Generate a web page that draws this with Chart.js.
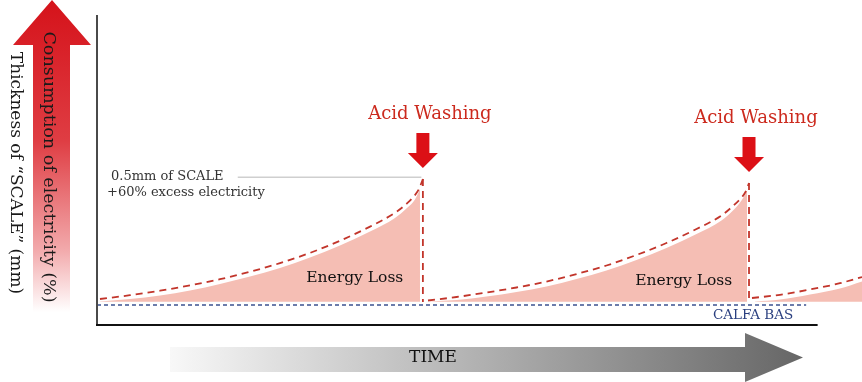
<!DOCTYPE html>
<html>
<head>
<meta charset="utf-8">
<script src="https://cdn.jsdelivr.net/npm/chart.js@4.4.1/dist/chart.umd.min.js"></script>
<style>
  html, body { margin: 0; padding: 0; background: #fff; }
  canvas { display: block; }
</style>
</head>
<body>
<canvas id="scaleChart" width="862" height="382"></canvas>
<script>
/* ── Data (time 0..100, consumption level 0..100) ─────── */
const curve1X = [0.39, 4.31, 8.24, 12.16, 16.08, 20.0, 23.92, 27.84, 31.76, 35.69, 38.95, 40.52, 41.57, 42.09, 42.6];
const curve1Y = [8.39, 9.61, 11.06, 12.77, 14.77, 17.16, 19.97, 23.26, 27.16, 31.74, 36.19, 39.23, 41.94, 43.87, 47.1];
const curve2X = [43.27, 46.99, 50.92, 54.84, 58.76, 62.68, 66.60, 70.52, 74.44, 78.37, 81.63, 83.20, 84.25, 84.77, 85.23];
const curve2Y = [7.90, 9.03, 10.48, 12.10, 14.03, 16.45, 19.19, 22.58, 26.45, 30.97, 35.32, 38.55, 41.13, 42.90, 45.81];
const curve3X = [85.62, 89.28, 93.20, 97.12, 100];
const curve3Y = [8.71, 9.74, 11.45, 13.48, 15.48];

// energy loss areas (sit just under the dashed curves)
const loss1X = [0.39, 4.31, 8.24, 12.16, 16.08, 20.0, 23.92, 27.84, 31.76, 35.69, 38.95, 40.52, 41.57, 42.22];
const loss1Y = [7.58, 8.39, 9.52, 11.13, 13.23, 15.65, 18.39, 21.77, 25.65, 30.16, 34.52, 37.74, 40.48, 43.87];
const loss2X = [43.53, 46.99, 50.92, 54.84, 58.76, 62.68, 66.60, 70.52, 74.44, 78.37, 81.63, 83.20, 84.25, 84.97];
const loss2Y = [7.58, 8.06, 9.19, 10.65, 12.42, 14.84, 17.58, 20.97, 24.84, 29.35, 33.71, 37.10, 40.16, 43.23];
const loss3X = [86.01, 89.28, 93.20, 97.12, 100];
const loss3Y = [7.58, 8.23, 9.84, 11.77, 14.03];
const lossBase = 7.5;

// acid washing drops
const washX = [42.6, 85.23];
const washTop = [47.1, 45.81];
const washBottom = [7.4, 7.4];

const baseX = [0, 92.7];
const baseY = [6.45, 6.45];
const leaderX = [18.4, 42.4];
const leaderY = [47.7, 47.7];
const xAxisEnd = 94.2;

const lossLabelX = [33.7, 76.7];
const lossLabelY = [13.9, 12.9];

const serif = '"DejaVu Serif", "Liberation Serif", serif';

function pts(xs, ys) {
    return xs.map((v, i) => ({ x: v, y: ys[i] }));
}

/* ── Decorations ─────────────────────────────────────── */
function drawDownArrow(ctx, cx, tipY) {
    ctx.beginPath();
    ctx.moveTo(cx - 6.5, tipY - 35);
    ctx.lineTo(cx + 6.5, tipY - 35);
    ctx.lineTo(cx + 6.5, tipY - 15);
    ctx.lineTo(cx + 15, tipY - 15);
    ctx.lineTo(cx, tipY);
    ctx.lineTo(cx - 15, tipY - 15);
    ctx.lineTo(cx - 6.5, tipY - 15);
    ctx.closePath();
    ctx.fill();
}

const decor = {
    id: 'decor',
    afterDatasetsDraw(chart) {
        const { ctx, chartArea: a } = chart;
        const x = chart.scales.x, y = chart.scales.y;
        ctx.save();

        // axes
        ctx.lineWidth = 2;
        ctx.strokeStyle = '#4a4a4a';
        ctx.beginPath();
        ctx.moveTo(a.left, a.top);
        ctx.lineTo(a.left, a.bottom + 1);
        ctx.stroke();
        ctx.strokeStyle = '#111';
        ctx.beginPath();
        ctx.moveTo(a.left - 1, a.bottom);
        ctx.lineTo(x.getPixelForValue(xAxisEnd), a.bottom);
        ctx.stroke();

        // left red arrow
        const g = ctx.createLinearGradient(0, 0, 0, 312);
        g.addColorStop(0, '#d5121a');
        g.addColorStop(0.45, '#df3d43');
        g.addColorStop(0.8, '#f2a9ab');
        g.addColorStop(1, '#ffffff');
        ctx.fillStyle = g;
        ctx.beginPath();
        ctx.moveTo(52, 0);
        ctx.lineTo(91, 45);
        ctx.lineTo(70, 45);
        ctx.lineTo(70, 312);
        ctx.lineTo(33, 312);
        ctx.lineTo(33, 45);
        ctx.lineTo(13, 45);
        ctx.closePath();
        ctx.fill();

        // bottom time arrow
        const t = ctx.createLinearGradient(170, 0, 803, 0);
        t.addColorStop(0, '#f8f8f8');
        t.addColorStop(1, '#666666');
        ctx.fillStyle = t;
        ctx.beginPath();
        ctx.moveTo(170, 347);
        ctx.lineTo(745, 347);
        ctx.lineTo(745, 333);
        ctx.lineTo(803, 357.5);
        ctx.lineTo(745, 382);
        ctx.lineTo(745, 372);
        ctx.lineTo(170, 372);
        ctx.closePath();
        ctx.fill();

        ctx.fillStyle = '#111';
        ctx.font = '17px ' + serif;
        ctx.textAlign = 'center';
        ctx.textBaseline = 'middle';
        ctx.fillText('TIME', 433, 358);

        // rotated axis titles
        ctx.save();
        ctx.translate(49, 167);
        ctx.rotate(Math.PI / 2);
        ctx.font = '17.5px ' + serif;
        ctx.fillStyle = '#1a1a1a';
        ctx.fillText('Consumption of electricity (%)', 0, 0);
        ctx.restore();

        ctx.save();
        ctx.translate(15, 173);
        ctx.rotate(Math.PI / 2);
        ctx.font = '17px ' + serif;
        ctx.fillStyle = '#1a1a1a';
        ctx.fillText('Thickness of \u201cSCALE\u201d (mm)', 0, 0);
        ctx.restore();

        // acid washing arrows and labels
        washX.forEach((wx, i) => {
            const px = x.getPixelForValue(wx);
            const tip = y.getPixelForValue(washTop[i]) - 11;
            ctx.fillStyle = '#dc1016';
            drawDownArrow(ctx, px, tip);
            ctx.fillStyle = '#cc2a1e';
            ctx.font = '18px ' + serif;
            ctx.textAlign = 'center';
            ctx.textBaseline = 'alphabetic';
            ctx.fillText('Acid Washing', px + 7, tip - 49);
        });

        // energy loss labels
        ctx.fillStyle = '#111';
        ctx.font = '15.5px ' + serif;
        ctx.textAlign = 'center';
        ctx.textBaseline = 'alphabetic';
        lossLabelX.forEach((lx, i) => {
            ctx.fillText('Energy Loss', x.getPixelForValue(lx), y.getPixelForValue(lossLabelY[i]));
        });

        // scale note
        ctx.textAlign = 'left';
        ctx.fillStyle = '#333';
        ctx.font = '13px ' + serif;
        ctx.fillText('0.5mm of SCALE', 111, 180);
        ctx.fillText('+60% excess electricity', 107, 196);

        // base label
        ctx.fillStyle = '#2b4080';
        ctx.font = '13.5px ' + serif;
        ctx.fillText('CALFA BAS', 713, 319);

        ctx.restore();
    }
};

/* ── Chart ───────────────────────────────────────────── */
const lossStyle = {
    showLine: true,
    borderWidth: 0,
    pointRadius: 0,
    backgroundColor: '#f5beb4',
    fill: { value: lossBase },
    cubicInterpolationMode: 'monotone',
    order: 3
};
const dashStyle = {
    showLine: true,
    borderColor: '#c2352b',
    borderWidth: 1.8,
    borderDash: [7, 5],
    pointRadius: 0,
    fill: false,
    cubicInterpolationMode: 'monotone',
    order: 1
};

new Chart(document.getElementById('scaleChart'), {
    type: 'scatter',
    data: {
        datasets: [
            { ...lossStyle, data: pts(loss1X, loss1Y) },
            { ...lossStyle, data: pts(loss2X, loss2Y) },
            { ...lossStyle, data: pts(loss3X, loss3Y) },
            { ...dashStyle, data: pts(curve1X, curve1Y) },
            { ...dashStyle, data: pts(curve2X, curve2Y) },
            { ...dashStyle, data: pts(curve3X, curve3Y) },
            { ...dashStyle, cubicInterpolationMode: 'default', data: pts([washX[0], washX[0]], [washTop[0], washBottom[0]]) },
            { ...dashStyle, cubicInterpolationMode: 'default', data: pts([washX[1], washX[1]], [washTop[1], washBottom[1]]) },
            { ...dashStyle, borderColor: '#3d5290', borderWidth: 1.4, borderDash: [4, 3], data: pts(baseX, baseY), order: 2 },
            { showLine: true, borderColor: '#cfcfcf', borderWidth: 1.5, pointRadius: 0, fill: false, data: pts(leaderX, leaderY), order: 2 }
        ]
    },
    options: {
        responsive: false,
        animation: false,
        devicePixelRatio: 1,
        layout: { padding: { left: 97, right: 0, top: 15, bottom: 57 } },
        plugins: {
            legend: { display: false },
            tooltip: { enabled: false }
        },
        scales: {
            x: { type: 'linear', min: 0, max: 100, display: false },
            y: { type: 'linear', min: 0, max: 100, display: false }
        }
    },
    plugins: [decor]
});
</script>
</body>
</html>
